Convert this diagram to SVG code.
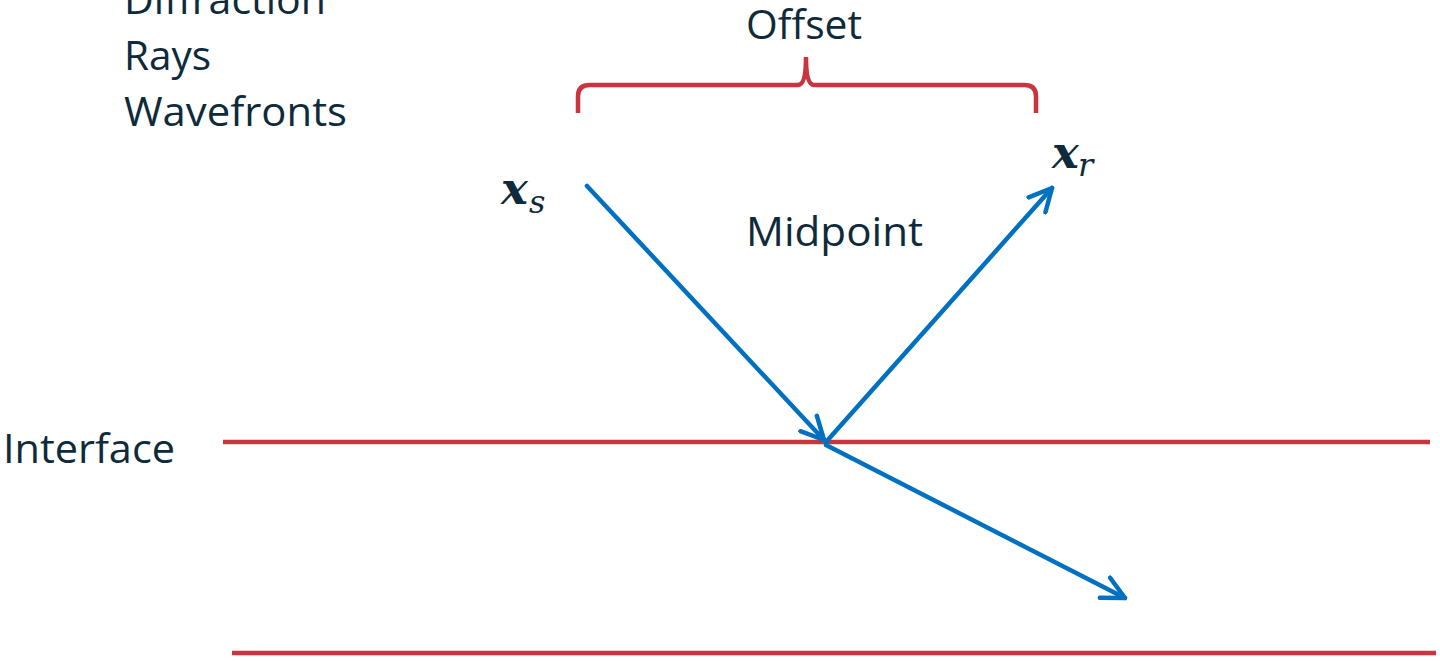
<svg xmlns="http://www.w3.org/2000/svg" width="1440" height="661" viewBox="0 0 1440 661">
<style>
.t{font-family:"Open Sans","Liberation Sans",sans-serif;font-size:40px;fill:#0E2A3B}
.m{font-family:"DejaVu Serif","Liberation Serif",serif;font-style:italic;fill:#0E2A3B}
.red{stroke:#C9343E;stroke-width:4.5;fill:none}
.ray{stroke:#0070C0;stroke-width:4.5;fill:none;stroke-linecap:round}
</style>
<defs>
<marker id="ah" viewBox="0 0 12 12" refX="11" refY="6" markerWidth="6" markerHeight="6" orient="auto" markerUnits="strokeWidth">
<path d="M1,1 L11,6 L1,11" fill="none" stroke="#0070C0" stroke-width="2" stroke-linecap="round" stroke-linejoin="round"/>
</marker>
</defs>
<g id="labels">
<text class="t" x="124" y="14" textLength="202" lengthAdjust="spacingAndGlyphs">Diffraction</text>
<text class="t" x="124" y="70" textLength="87" lengthAdjust="spacingAndGlyphs">Rays</text>
<text class="t" x="124" y="126" textLength="223" lengthAdjust="spacingAndGlyphs">Wavefronts</text>
</g>
<g id="offset">
<text class="t" x="746" y="39" textLength="116" lengthAdjust="spacingAndGlyphs">Offset</text>
<path class="red" d="M578,113 L578,96 Q578,85 590,85 L798,85 Q806,85 806,57 Q806,85 814,85 L1024,85 Q1036,85 1036,96 L1036,113"/>
</g>
<g id="midpoint">
<text class="t" x="746" y="246" textLength="177" lengthAdjust="spacingAndGlyphs">Midpoint</text>
</g>
<g id="xs">
<text class="m" x="501" y="204" font-size="45" font-weight="bold">x</text>
<text class="m" x="529" y="213" font-size="32">s</text>
</g>
<g id="xr">
<text class="m" x="1052" y="168" font-size="45" font-weight="bold">x</text>
<text class="m" x="1078" y="176" font-size="32">r</text>
</g>
<g id="interface">
<text class="t" x="3" y="463" textLength="172" lengthAdjust="spacingAndGlyphs">Interface</text>
<line class="red" x1="223" y1="442" x2="1430" y2="442"/>
</g>
<g id="bottom">
<line class="red" x1="232" y1="653" x2="1436" y2="653"/>
</g>
<g id="connectors">
<line class="ray" x1="587" y1="186" x2="824" y2="440" marker-end="url(#ah)"/>
<line class="ray" x1="826" y1="442" x2="1052" y2="188" marker-end="url(#ah)"/>
<line class="ray" x1="826" y1="445" x2="1125" y2="598" marker-end="url(#ah)"/>
</g>
</svg>
